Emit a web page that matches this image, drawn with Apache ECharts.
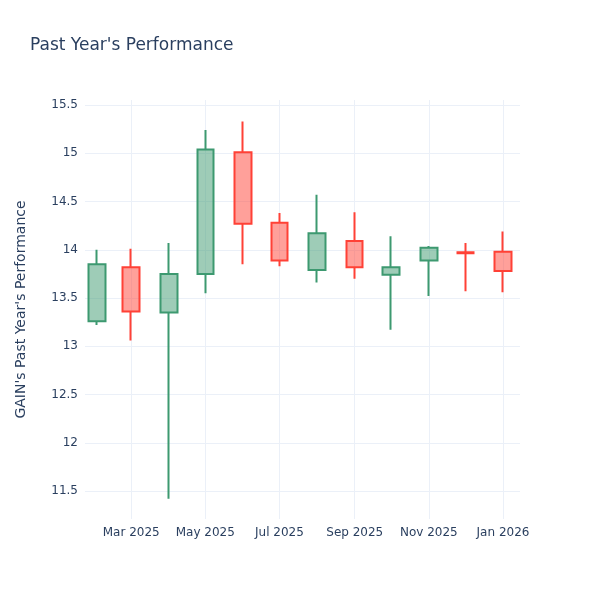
<!DOCTYPE html>
<html>
<head>
<meta charset="utf-8">
<script src="https://cdn.jsdelivr.net/npm/echarts@6/dist/echarts.min.js"></script>
<style>html,body{margin:0;padding:0;background:#fff}#c{width:600px;height:600px}</style>
</head>
<body>
<div id="c"></div>
<script>
// Monthly candles: [year, monthIndex]
const months = [[2025,1],[2025,2],[2025,3],[2025,4],[2025,5],[2025,6],[2025,7],[2025,8],[2025,9],[2025,10],[2025,11],[2026,0]];
const opens  = [13.26, 13.82, 13.35, 13.75, 15.01, 14.28, 13.79, 14.09, 13.74, 13.89, 13.975, 13.98];
const closes = [13.85, 13.36, 13.75, 15.04, 14.27, 13.89, 14.17, 13.82, 13.82, 14.02, 13.965, 13.78];
const lows   = [13.22, 13.06, 11.42, 13.55, 13.85, 13.83, 13.66, 13.70, 13.17, 13.52, 13.57, 13.56];
const highs  = [14.00, 14.01, 14.07, 15.24, 15.33, 14.38, 14.57, 14.39, 14.14, 14.04, 14.07, 14.19];
const tickMonths = [[2025,2],[2025,4],[2025,6],[2025,8],[2025,10],[2026,0]];
const yTicks = [11.5, 12, 12.5, 13, 13.5, 14, 14.5, 15, 15.5];
const monthNames = ['Jan','Feb','Mar','Apr','May','Jun','Jul','Aug','Sep','Oct','Nov','Dec'];

const ts = m => Date.UTC(m[0], m[1], 1);
const data = months.map((m, i) => [ts(m), opens[i], closes[i], lows[i], highs[i]]);
const tickValues = tickMonths.map(ts);

const font = 'DejaVu Sans, Verdana, sans-serif';
const textColor = '#2a3f5f';
const gridColor = '#EBF0F8';
const gridTop = 100, gridBottom = 81, gridLeft = 85, gridRight = 80;

const chart = echarts.init(document.getElementById('c'));
chart.setOption({
  animation: false,
  backgroundColor: '#fff',
  title: {
    text: "Past Year's Performance",
    left: 30, top: 37, padding: 0,
    textStyle: {fontFamily: font, fontSize: 17, fontWeight: 'normal', color: textColor}
  },
  grid: {left: gridLeft, right: gridRight, top: gridTop, bottom: gridBottom},
  xAxis: {
    type: 'value',
    min: Date.UTC(2025, 0, 22),
    max: Date.UTC(2026, 0, 15),
    axisLine: {show: false},
    splitLine: {show: false},
    axisTick: {
      show: true, inside: true, length: 600 - gridTop - gridBottom,
      customValues: tickValues,
      lineStyle: {color: gridColor, width: 1}
    },
    axisLabel: {
      customValues: tickValues,
      fontFamily: font, fontSize: 12, color: textColor, margin: 8,
      formatter: v => { const d = new Date(v); return monthNames[d.getUTCMonth()] + ' ' + d.getUTCFullYear(); }
    }
  },
  yAxis: {
    type: 'value',
    min: 11.21, max: 15.552,
    name: "GAIN's Past Year's Performance",
    nameLocation: 'middle', nameGap: 57,
    nameTextStyle: {fontFamily: font, fontSize: 14, color: textColor},
    axisLine: {show: false},
    splitLine: {show: false},
    axisTick: {
      show: true, inside: true, length: 600 - gridLeft - gridRight,
      customValues: yTicks,
      lineStyle: {color: gridColor, width: 1}
    },
    axisLabel: {
      customValues: yTicks,
      fontFamily: font, fontSize: 12, color: textColor, margin: 7
    }
  },
  series: [{
    type: 'candlestick',
    barWidth: 17,
    encode: {x: 0, y: [1, 2, 3, 4]},
    data: data,
    itemStyle: {
      color: 'rgba(61,153,112,0.5)',
      color0: 'rgba(255,65,54,0.5)',
      borderColor: '#3D9970',
      borderColor0: '#FF4136',
      borderWidth: 2
    }
  }]
});
</script>
</body>
</html>
